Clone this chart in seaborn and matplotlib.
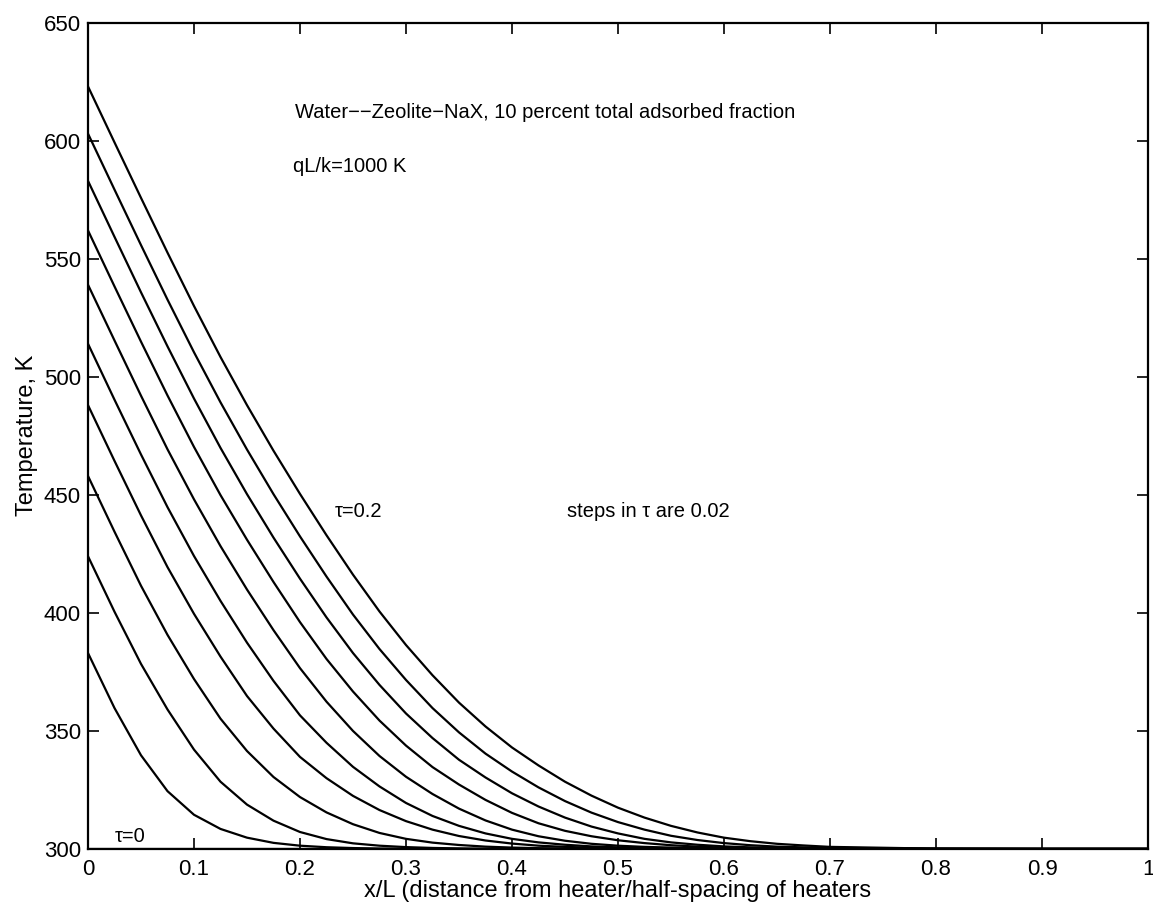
import matplotlib
matplotlib.use("Agg")
import matplotlib.pyplot as plt
import pandas as pd
import seaborn as sns

# distance from heater, x/L
x_pos = [0, 0.025, 0.05, 0.075, 0.1, 0.125, 0.15, 0.175, 0.2, 0.225, 0.25, 0.275,
         0.3, 0.325, 0.35, 0.375, 0.4, 0.425, 0.45, 0.475, 0.5, 0.525, 0.55, 0.575,
         0.6, 0.625, 0.65, 0.675, 0.7, 0.8, 0.9, 1.0]

# temperature profiles (K), one list per tau
t_000 = [300, 300, 300, 300, 300, 300, 300, 300, 300, 300, 300, 300, 300, 300, 300, 300,
         300, 300, 300, 300, 300, 300, 300, 300, 300, 300, 300, 300, 300, 300, 300, 300]
t_002 = [383, 359.7, 339.7, 324.5, 314.5, 308.5, 304.8, 302.6, 301.4, 300.75, 300.4, 300.2,
         300.1, 300.05, 300, 300, 300, 300, 300, 300, 300, 300, 300, 300,
         300, 300, 300, 300, 300, 300, 300, 300]
t_004 = [424, 400.5, 378.4, 359.1, 342.1, 328.5, 318.8, 312, 307.2, 304.2, 302.4, 301.4,
         300.8, 300.45, 300.25, 300.1, 300.05, 300, 300, 300, 300, 300, 300, 300,
         300, 300, 300, 300, 300, 300, 300, 300]
t_006 = [458, 434.4, 411.5, 390.7, 372, 355.2, 341.5, 330.5, 322, 315.5, 310.5, 306.8,
         304.3, 302.7, 301.7, 301.0, 300.6, 300.35, 300.2, 300.1, 300.05, 300, 300, 300,
         300, 300, 300, 300, 300, 300, 300, 300]
t_008 = [488, 464.4, 441.3, 419.4, 399.6, 381.5, 364.8, 351, 339, 330, 322.5, 316.5,
         311.8, 308.2, 305.5, 303.6, 302.3, 301.4, 300.9, 300.55, 300.35, 300.2, 300.1, 300.05,
         300, 300, 300, 300, 300, 300, 300, 300]
t_010 = [514, 490.3, 467.1, 444.8, 424.1, 405.1, 387.4, 371.2, 356.6, 345, 334.8, 326.5,
         319.5, 314, 309.8, 306.6, 304.3, 302.8, 301.8, 301.1, 300.7, 300.4, 300.25, 300.15,
         300.1, 300.05, 300, 300, 300, 300, 300, 300]
t_012 = [539, 515.4, 492, 469.3, 448.1, 428.3, 409.9, 392.7, 376.6, 362.4, 350, 339.4,
         330.6, 323.3, 317.1, 312.1, 308.2, 305.4, 303.5, 302.2, 301.4, 300.9, 300.6, 300.4,
         300.25, 300.15, 300.1, 300.05, 300, 300, 300, 300]
t_014 = [562, 538.3, 514.9, 492.1, 470.3, 449.9, 431, 413.1, 396.1, 380.5, 366.7, 354.4,
         343.8, 334.7, 327.3, 320.8, 315.3, 310.9, 307.7, 305.4, 303.7, 302.5, 301.6, 301,
         300.6, 300.35, 300.2, 300.1, 300.05, 300, 300, 300]
t_016 = [583, 559.3, 535.8, 512.9, 490.8, 469.9, 450.3, 431.9, 414.5, 398.1, 383, 369.5,
         357.4, 347, 337.8, 330.3, 323.6, 318, 313.3, 309.5, 306.6, 304.3, 302.8, 301.8,
         301.1, 300.7, 300.5, 300.3, 300.15, 300, 300, 300]
t_018 = [603, 579.3, 555.8, 532.7, 510.4, 489.2, 469.2, 450.3, 432.4, 415.4, 399.3, 384.7,
         371.6, 359.7, 349.4, 340.4, 332.8, 326.1, 320.3, 315.4, 311.4, 308.2, 305.6, 303.8,
         302.5, 301.6, 301, 300.7, 300.5, 300.1, 300, 300]
t_020 = [623, 599.3, 575.8, 552.6, 530, 508.4, 488, 468.7, 450.4, 432.9, 416.2, 400.6,
         386.4, 373.6, 362, 351.9, 343, 335.4, 328.5, 322.6, 317.5, 313.3, 309.8, 307,
         304.8, 303.3, 302.2, 301.5, 300.9, 300.15, 300, 300]

taus = [0.0, 0.02, 0.04, 0.06, 0.08, 0.10, 0.12, 0.14, 0.16, 0.18, 0.20]
profiles = [t_000, t_002, t_004, t_006, t_008, t_010, t_012, t_014, t_016, t_018, t_020]

x_ticks = [0, 0.1, 0.2, 0.3, 0.4, 0.5, 0.6, 0.7, 0.8, 0.9, 1.0]
x_ticklabels = ["0", "0.1", "0.2", "0.3", "0.4", "0.5", "0.6", "0.7", "0.8", "0.9", "1"]
y_ticks = [300, 350, 400, 450, 500, 550, 600, 650]

rows = []
for tau, temps in zip(taus, profiles):
    for x, t in zip(x_pos, temps):
        rows.append({"tau": tau, "x": x, "T": t})
df = pd.DataFrame(rows)

sns.set_style("ticks")
plt.rcParams["font.family"] = ["Liberation Sans", "DejaVu Sans"]
plt.rcParams["text.color"] = "black"
plt.rcParams["axes.labelcolor"] = "black"

fig = plt.figure(figsize=(11.53, 9.14), dpi=100)
ax = fig.add_axes([88 / 1153, 1 - 849 / 914, 1060 / 1153, (849 - 22.7) / 914])

sns.lineplot(data=df, x="x", y="T", hue="tau", units="tau", estimator=None,
             palette=["black"] * len(taus), legend=False, linewidth=1.6,
             sort=True, ax=ax)

ax.set_xlim(0, 1)
ax.set_ylim(300, 650)
ax.set_xticks(x_ticks)
ax.set_xticklabels(x_ticklabels)
ax.set_yticks(y_ticks)
ax.tick_params(direction="in", length=8, width=1.2, top=True, right=True,
               labelsize=16, colors="black")
ax.tick_params(axis="x", pad=7)
ax.tick_params(axis="y", pad=5)
for sp in ax.spines.values():
    sp.set_visible(True)
    sp.set_linewidth(1.6)
    sp.set_color("black")

ax.set_xlabel("x/L (distance from heater/half-spacing of heaters", fontsize=17, labelpad=0)
ax.set_ylabel("Temperature, K", fontsize=17, labelpad=4)

ax.text(0.1953, 611.9, "Water\u2212\u2212Zeolite\u2212NaX, 10 percent total adsorbed fraction",
        fontsize=14.5, va="center", ha="left")
ax.text(0.1937, 589.1, "qL/k=1000 K", fontsize=14.5, va="center", ha="left")
ax.text(0.233, 443, "\u03c4=0.2", fontsize=14.5, va="center", ha="left")
ax.text(0.4516, 443, "steps in \u03c4 are 0.02", fontsize=14.5, va="center", ha="left")
ax.text(0.0255, 305.2, "\u03c4=0", fontsize=14.5, va="center", ha="left")

fig.savefig("out.png", dpi=100)
